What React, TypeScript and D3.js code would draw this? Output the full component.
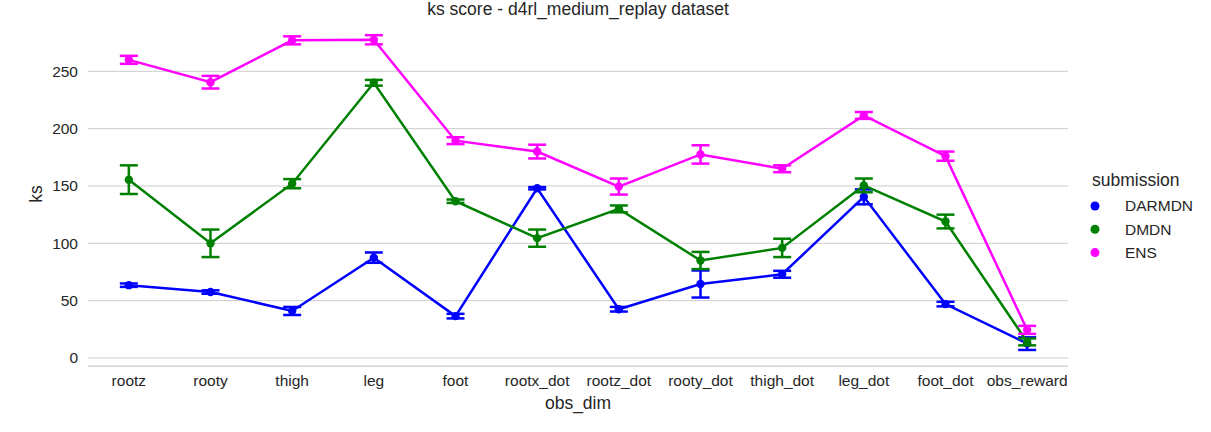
import { useMemo } from "react";
import * as d3 from "d3";

const categories = [
  "rootz", "rooty", "thigh", "leg", "foot", "rootx_dot",
  "rootz_dot", "rooty_dot", "thigh_dot", "leg_dot", "foot_dot", "obs_reward",
];

const seriesNames = ["DARMDN", "DMDN", "ENS"];
const seriesColors = ["#0000ff", "#008000", "#ff00ff"];

const darmdnMean = [63.5, 57.5, 41, 87.5, 36.5, 148, 42.5, 64.5, 73, 140.5, 47, 12.5];
const darmdnErr = [1.5, 1.5, 3.5, 4.5, 2, 1, 2, 11.8, 3, 6.5, 2, 5.5];
const dmdnMean = [155.5, 100, 152, 240, 136.7, 104.5, 130, 85, 96, 150.5, 119, 14];
const dmdnErr = [12.5, 12, 4, 2.5, 1.5, 7.5, 3, 7.5, 8, 6, 6, 3];
const ensMean = [260, 240.5, 277, 277.5, 189.5, 180, 149.5, 177.5, 165, 211.5, 176, 24.5];
const ensErr = [3.5, 5.5, 3.5, 4, 3, 6, 7, 8, 3, 3, 4, 3.5];

const yTicks = [0, 50, 100, 150, 200, 250];

const FONT = "'Liberation Sans', Arial, sans-serif";
const TEXT = "#262626";
const GRID = "#cccccc";

export default function App() {
  const width = 1211;
  const height = 432;
  const plot = { l: 88, r: 1068, t: 22, b: 366 };

  const series = [
    { name: seriesNames[0], color: seriesColors[0], mean: darmdnMean, err: darmdnErr },
    { name: seriesNames[1], color: seriesColors[1], mean: dmdnMean, err: dmdnErr },
    { name: seriesNames[2], color: seriesColors[2], mean: ensMean, err: ensErr },
  ];

  const { x, y } = useMemo(() => {
    const x = d3.scalePoint<string>().domain(categories).range([plot.l, plot.r]).padding(0.5);
    const y = d3.scaleLinear().domain([-7, 293]).range([plot.b, plot.t]);
    return { x, y };
  }, []);

  const line = d3
    .line<number>()
    .x((_, i) => x(categories[i]) ?? 0)
    .y((d) => y(d));

  const cap = 9;

  return (
    <svg width={width} height={height} style={{ position: "absolute", left: 0, top: 0 }}>
      <rect width={width} height={height} fill="#ffffff" />
      {yTicks.map((t) => (
        <g key={t}>
          <line x1={plot.l} x2={plot.r} y1={y(t)} y2={y(t)} stroke={GRID} strokeWidth={1} />
          <text
            x={78}
            y={y(t)}
            dy="0.35em"
            textAnchor="end"
            fontSize={15.5}
            fontFamily={FONT}
            fill={TEXT}
          >
            {t}
          </text>
        </g>
      ))}
      <line x1={plot.l} x2={plot.r} y1={plot.b} y2={plot.b} stroke={GRID} strokeWidth={1.25} />

      {series.map((s) => (
        <g key={s.name}>
          {s.mean.map((m, i) => {
            const cx = x(categories[i]) ?? 0;
            const lo = y(m - s.err[i]);
            const hi = y(m + s.err[i]);
            return (
              <g key={i} stroke={s.color} strokeWidth={2.5}>
                <line x1={cx} x2={cx} y1={lo} y2={hi} />
                <line x1={cx - cap} x2={cx + cap} y1={lo} y2={lo} />
                <line x1={cx - cap} x2={cx + cap} y1={hi} y2={hi} />
              </g>
            );
          })}
          <path d={line(s.mean) ?? ""} fill="none" stroke={s.color} strokeWidth={2.5} />
          {s.mean.map((m, i) => (
            <circle key={i} cx={x(categories[i]) ?? 0} cy={y(m)} r={4.2} fill={s.color} />
          ))}
        </g>
      ))}

      {categories.map((c) => (
        <text
          key={c}
          x={x(c) ?? 0}
          y={386}
          textAnchor="middle"
          fontSize={15.5}
          fontFamily={FONT}
          fill={TEXT}
        >
          {c}
        </text>
      ))}

      <text x={(plot.l + plot.r) / 2} y={409} textAnchor="middle" fontSize={17.5} fontFamily={FONT} fill={TEXT}>
        obs_dim
      </text>
      <text
        transform={`translate(42,${(plot.t + plot.b) / 2}) rotate(-90)`}
        textAnchor="middle"
        fontSize={17.5}
        fontFamily={FONT}
        fill={TEXT}
      >
        ks
      </text>
      <text x={(plot.l + plot.r) / 2} y={15} textAnchor="middle" fontSize={17.5} fontFamily={FONT} fill={TEXT}>
        ks score - d4rl_medium_replay dataset
      </text>

      <text x={1092} y={186} fontSize={17.5} fontFamily={FONT} fill={TEXT}>
        submission
      </text>
      {series.map((s, i) => (
        <g key={s.name} transform={`translate(0,${206 + i * 23.3})`}>
          <circle cx={1095} cy={0} r={4.5} fill={s.color} />
          <text x={1125} y={0} dy="0.35em" fontSize={15.5} fontFamily={FONT} fill={TEXT}>
            {s.name}
          </text>
        </g>
      ))}
    </svg>
  );
}
